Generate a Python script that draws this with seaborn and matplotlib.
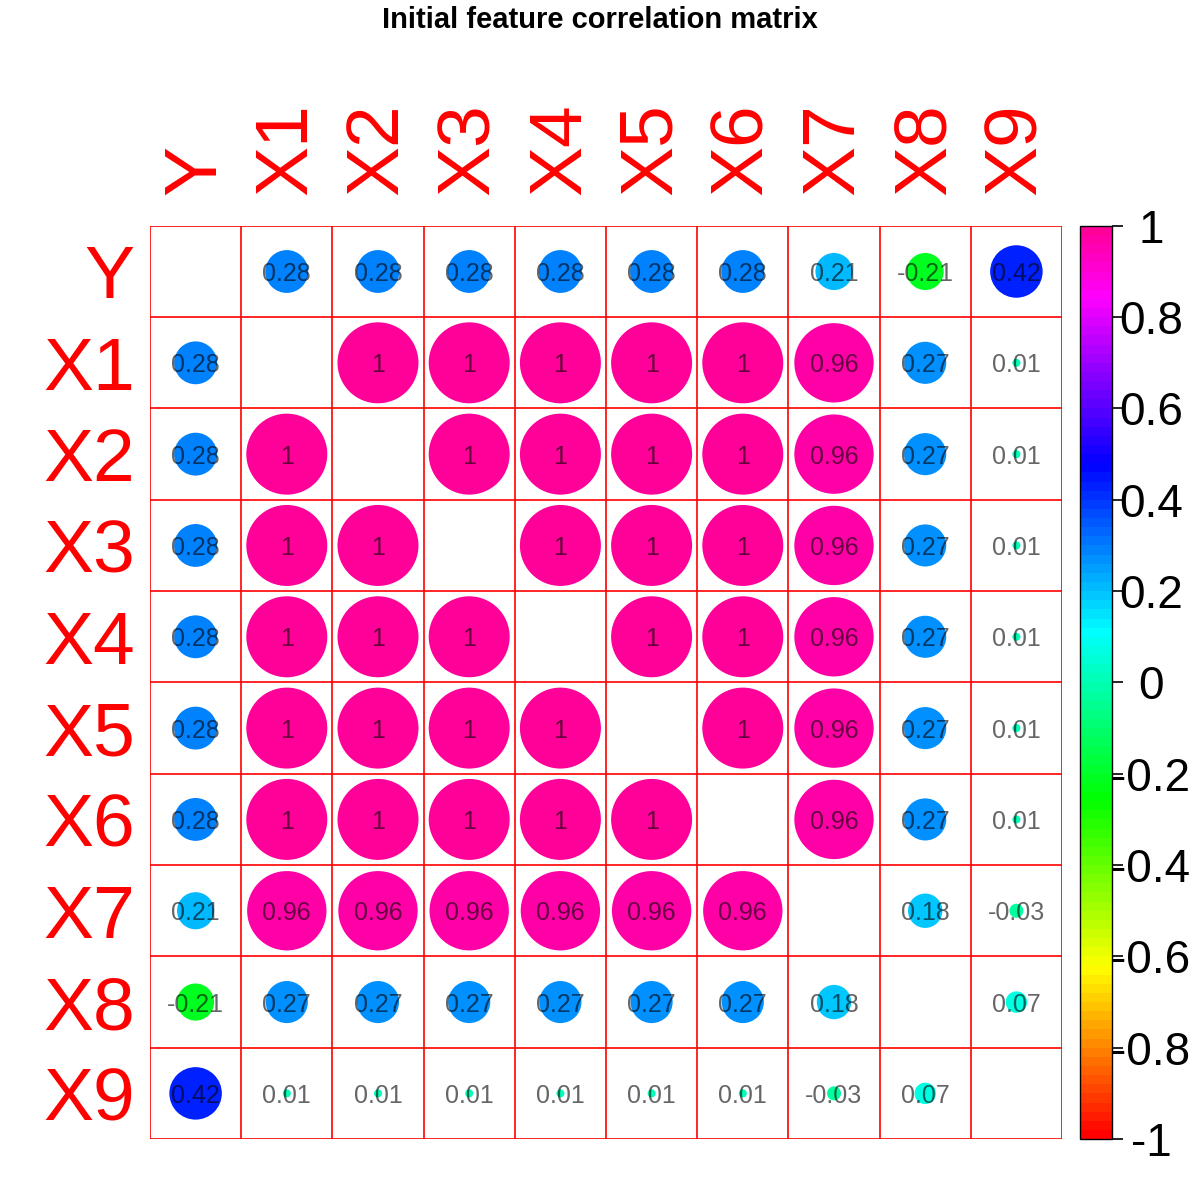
import numpy as np
import pandas as pd
import matplotlib
import matplotlib.pyplot as plt
from matplotlib.colors import ListedColormap, Normalize, hsv_to_rgb
import seaborn as sns

sns.set_theme(style="white")
plt.rcParams['font.family'] = ['Liberation Sans', 'DejaVu Sans']
plt.rcParams['text.color'] = 'black'
plt.rcParams['ytick.color'] = 'black'

labels = ["Y", "X1", "X2", "X3", "X4", "X5", "X6", "X7", "X8", "X9"]
corr = [
    [1.00, 0.28, 0.28, 0.28, 0.28, 0.28, 0.28, 0.21, -0.21, 0.42],
    [0.28, 1.00, 1.00, 1.00, 1.00, 1.00, 1.00, 0.96, 0.27, 0.01],
    [0.28, 1.00, 1.00, 1.00, 1.00, 1.00, 1.00, 0.96, 0.27, 0.01],
    [0.28, 1.00, 1.00, 1.00, 1.00, 1.00, 1.00, 0.96, 0.27, 0.01],
    [0.28, 1.00, 1.00, 1.00, 1.00, 1.00, 1.00, 0.96, 0.27, 0.01],
    [0.28, 1.00, 1.00, 1.00, 1.00, 1.00, 1.00, 0.96, 0.27, 0.01],
    [0.28, 1.00, 1.00, 1.00, 1.00, 1.00, 1.00, 0.96, 0.27, 0.01],
    [0.21, 0.96, 0.96, 0.96, 0.96, 0.96, 0.96, 1.00, 0.18, -0.03],
    [-0.21, 0.27, 0.27, 0.27, 0.27, 0.27, 0.27, 0.18, 1.00, 0.07],
    [0.42, 0.01, 0.01, 0.01, 0.01, 0.01, 0.01, -0.03, 0.07, 1.00],
]
title = "Initial feature correlation matrix"
cbar_ticks = [-1, -0.8, -0.6, -0.4, -0.2, 0, 0.2, 0.4, 0.6, 0.8, 1]
cbar_labels = ["-1", "-0.8", "-0.6", "-0.4", "-0.2", "0",
               "0.2", "0.4", "0.6", "0.8", "1"]

# rainbow palette, red (-1) -> deep pink (1), like R rainbow(end=0.9)
hues = np.linspace(0, 0.9, 100)
cmap = ListedColormap(hsv_to_rgb(np.column_stack([hues, np.ones(100), np.ones(100)])))

n = len(labels)
rows = []
for i in range(n):
    for j in range(n):
        if i == j:
            continue
        rows.append({"row": i, "col": j, "r": corr[i][j], "absr": abs(corr[i][j])})
df = pd.DataFrame(rows)

fig = plt.figure(figsize=(12, 12), dpi=100)
ax = fig.add_axes([0.125, 0.0508, 0.76, 0.761])

sns.scatterplot(data=df, x="col", y="row", hue="r", palette=cmap,
                hue_norm=(-1, 1), size="absr", sizes=(0, 3400),
                size_norm=(0, 1), linewidth=0, legend=False, ax=ax)

for _, rw in df.iterrows():
    ax.text(rw["col"], rw["row"], "%g" % rw["r"], ha="center",
            va="center_baseline", fontsize=18, color="black", alpha=0.6)

ax.set_xlim(-0.5, n - 0.5)
ax.set_ylim(n - 0.5, -0.5)
for k in range(n + 1):
    ax.axhline(k - 0.5, color="red", lw=1.2)
    ax.axvline(k - 0.5, color="red", lw=1.2)
for s in ax.spines.values():
    s.set_visible(False)

ax.set_xlabel("")
ax.set_ylabel("")
ax.xaxis.tick_top()
ax.set_xticks(range(n))
ax.set_xticklabels(labels, rotation=90, fontsize=54, color="red")
ax.set_yticks(range(n))
ax.set_yticklabels(labels, fontsize=54, color="red")
ax.tick_params(axis="x", length=0, pad=22)
ax.tick_params(axis="y", length=0, pad=11)

cax = fig.add_axes([0.9, 0.0508, 0.0267, 0.761])
sm = matplotlib.cm.ScalarMappable(norm=Normalize(-1, 1), cmap=cmap)
cb = fig.colorbar(sm, cax=cax, ticks=cbar_ticks)
cb.ax.set_yticklabels(cbar_labels)
cb.ax.tick_params(labelsize=33, length=8, width=1.2, pad=20, color="black",
                  labelcolor="black")
for t in cb.ax.get_yticklabels():
    t.set_horizontalalignment("center")
cb.outline.set_edgecolor("black")
cb.outline.set_linewidth(1)

fig.suptitle(title, fontsize=21, fontweight="bold", y=0.995, color="black")

plt.savefig("out.png", dpi=100)
